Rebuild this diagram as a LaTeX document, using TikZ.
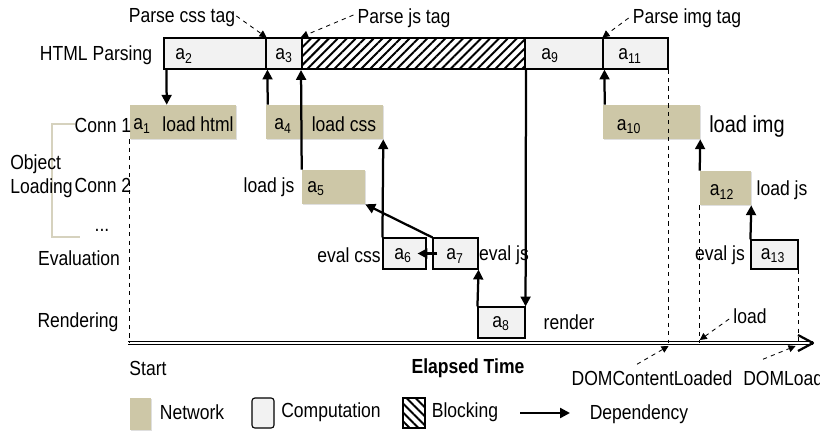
\documentclass[tikz,border=0pt]{standalone}
\usepackage{fontspec}
\setmainfont[FakeStretch=0.86]{Liberation Sans}
\usetikzlibrary{arrows.meta,patterns.meta,fit,calc,shadows}

\definecolor{netcol}{RGB}{205,199,167}
\definecolor{compcol}{RGB}{242,242,242}
\definecolor{brackcol}{RGB}{214,210,190}

\tikzset{
  net/.style={fill=netcol, inner sep=0pt, drop shadow={shadow xshift=0.7pt, shadow yshift=-0.7pt, opacity=0.25}},
  comp/.style={draw, fill=compcol, line width=0.8pt, inner sep=0pt},
  blk/.style={draw, line width=0.8pt, inner sep=0pt, pattern={Lines[angle=45,distance=4.5pt,line width=1.4pt]}},
  lbl/.style={inner sep=0pt},
  dep/.style={line width=1.6pt, -{Triangle[length=7pt,width=7pt]}},
  note/.style={dashed, line width=0.6pt, -{Triangle[length=5pt,width=5pt]}},
  guide/.style={dashed, line width=0.6pt}
}

\begin{document}
\fontsize{14.5}{17}\selectfont
\begin{tikzpicture}[x=0.025cm, y=-0.025cm]
\useasboundingbox (0,0) rectangle (820,430);

% HTML parsing bar
\node[comp, fit={(164,38) (266,69)}] (a2) {};
\node[comp, fit={(266,38) (302,69)}] (a3) {};
\node[blk, fit={(302,38) (525,69)}] (hatch) {};
\node[comp, fit={(525,38) (603,69)}] (a9) {};
\node[comp, fit={(603,38) (668,69)}] (a11) {};
\node[lbl] (html) at (96,55) {HTML Parsing};
\node[lbl] (la2) at (184,56) {a\textsubscript{2}};
\node[lbl] (la3) at (284,56) {a\textsubscript{3}};
\node[lbl] (la9) at (550,56) {a\textsubscript{9}};
\node[lbl] (la11) at (630,56) {a\textsubscript{11}};

% Tag annotations
\node[lbl] (pcss) at (182,18) {Parse css tag};
\node[lbl] (pjs) at (404,18) {Parse js tag};
\node[lbl] (pimg) at (687,18) {Parse img tag};
\draw[note] ($(pcss.east)+(1,-2)$) -- (a2.north east);
\draw[note] ($(pjs.west)+(-4,-3)$) -- (hatch.north west);
\draw[note] ($(pimg.west)+(-4,0)$) -- (a11.north west);

% Object loading bracket
\draw[brackcol, line width=1.5pt] (75,124) -- (52,124) -- (52,237) -- (80,237);

% Network boxes
\node[net, fit={(130,105) (236,139)}] (a1) {};
\node[net, fit={(266,105) (383,139)}] (a4) {};
\node[net, fit={(603,105) (700,139)}] (a10) {};
\node[net, fit={(302,170) (365,204)}] (a5) {};
\node[net, fit={(700,171) (751,205)}] (a12) {};

% Computation boxes
\node[comp, fit={(383,238) (426,269)}] (a6) {};
\node[comp, fit={(433,238) (478,269)}] (a7) {};
\node[comp, fit={(751,240) (798,269)}] (a13) {};
\node[comp, fit={(478,307) (525,338)}] (a8) {};

% Time axis
\coordinate (ax0) at (128,343);
\coordinate (ax1) at (813,343);
\draw[double, double distance=1.3pt, line width=0.6pt] (ax0) -- (ax1);
\draw[line width=1.6pt, line join=round] ($(ax1)+(-15,-8)$) -- (ax1) -- ($(ax1)+(-15,8)$);

% Guide lines
\draw[guide] (a1.south west) -- (a1.south west |- ax0);
\draw[guide] (a11.south east) -- (a11.south east |- ax0);
\draw[guide] (a12.south west) -- (a12.south west |- ax0);
\draw[guide] (a13.south east) -- (a13.south east |- ax0);

% Dependencies
\draw[dep] ($(a2.south west)+(3,0)$) -- ($(a1.north west)+(37,0)$);
\draw[dep] ($(a4.north west)+(2,0)$) -- ($(a3.south west)+(2,0)$);
\draw[dep] (a5.north west) -- (hatch.south west);
\draw[dep] (a6.north west) -- (a4.south east);
\draw[dep] (a7.north west) -- (a5.south east);
\draw[dep] ($(a7.west)+(5,0)$) -- ($(a6.east)+(-9,0)$);
\draw[dep] (a8.north west) -- (a7.south east);
\draw[dep] (hatch.south east) -- (a8.north east);
\draw[dep] ($(a10.north west)+(2,0)$) -- ($(a11.south west)+(2,0)$);
\draw[dep] (a12.north west) -- (a10.south east);
\draw[dep] (a13.north west) -- (a12.south east);

% Row labels
\node[lbl] (conn1) at (103,125) {Conn 1};
\node[lbl, align=left, anchor=west] (objl) at (10,176) {Object\\Loading};
\node[lbl] (conn2) at (103,185) {Conn 2};
\node[lbl] (dots) at (102,230) {...};
\node[lbl] (evall) at (79,258) {Evaluation};
\node[lbl] (rendl) at (78,322) {Rendering};

% Box labels
\node[lbl] (la1) at (142,126) {a\textsubscript{1}};
\node[lbl] (lhtml) at (198,124) {load html};
\node[lbl] (la4) at (283,126) {a\textsubscript{4}};
\node[lbl] (lcss) at (344,124) {load css};
\node[lbl] (la10) at (629,127) {a\textsubscript{10}};
\node[lbl] (limg) at (747,126) {\fontsize{16.5}{19}\selectfont load img};
\node[lbl] (ljs1) at (269,187) {load js};
\node[lbl] (la5) at (316,189) {a\textsubscript{5}};
\node[lbl] (la12) at (722,192) {a\textsubscript{12}};
\node[lbl] (ljs2) at (782,190) {load js};
\node[lbl] (ecss) at (349,255) {eval css};
\node[lbl] (la6) at (403,256) {a\textsubscript{6}};
\node[lbl] (la7) at (455,256) {a\textsubscript{7}};
\node[lbl] (ejs1) at (504,255) {eval js};
\node[lbl] (ejs2) at (720,255) {eval js};
\node[lbl] (la13) at (773,256) {a\textsubscript{13}};
\node[lbl] (la8) at (501,324) {a\textsubscript{8}};
\node[lbl] (rend) at (569,322) {render};

% Axis labels
\node[lbl] (loadl) at (750,316) {load};
\node[lbl] (start) at (148,368) {Start};
\node[lbl] (elap) at (468,368) {\bfseries Elapsed Time};
\node[lbl] (dcl) at (652,378) {DOMContentLoaded};
\node[lbl, anchor=west] (dld) at (743,378) {DOMLoaded};
\draw[note] ($(loadl.west)+(-4,3)$) -- ($(a12.south west |- ax0)+(0,-3)$);
\draw[note] ($(dcl.north)+(-15,-6)$) -- ($(a11.south east |- ax0)+(0,3)$);
\draw[note] ($(dld.north west)+(20,-11)$) -- ($(a13.south east |- ax0)+(-3,3)$);

% Legend
\node[net, fit={(130,398) (151,430)}] (kn) {};
\node[lbl] (kntxt) at (192,412) {Network};
\node[comp, rounded corners=2pt, fit={(252,398) (274,428)}] (kc) {};
\node[lbl] (kctxt) at (331,412) {Computation};
\node[draw, line width=0.8pt, inner sep=0pt, pattern={Lines[angle=-45,distance=4.5pt,line width=1.4pt]}, fit={(403,398) (425,428)}] (kb) {};
\node[lbl] (kbtxt) at (465,412) {Blocking};
\coordinate (kd0) at (520,413);
\coordinate (kd1) at (570,413);
\draw[dep] (kd0) -- (kd1);
\node[lbl] (kdtxt) at (639,414) {Dependency};
\end{tikzpicture}
\end{document}
